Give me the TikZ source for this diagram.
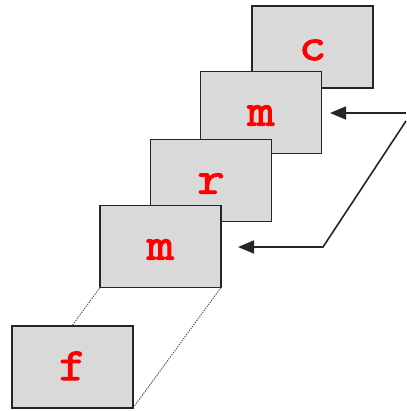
\documentclass[tikz,border=0pt]{standalone}
\usepackage{fontspec}
\newfontfamily\cardfont[FakeBold=2.5,FakeStretch=1.15]{Latin Modern Mono}
\usetikzlibrary{arrows.meta}
\begin{document}
\begin{tikzpicture}[x=1pt,y=-1pt,
  card/.style={draw=black!85,line width=1.8pt,fill=black!15,
    minimum width=121pt,minimum height=82pt,inner sep=0pt,outer sep=0pt,
    text=red,font=\fontsize{46}{46}\cardfont,
    text height=26pt,text depth=0pt},
  guide/.style={draw=black!65,line width=0.9pt,dash pattern=on 1.5pt off 1pt},
  feed/.style={draw=black!85,line width=1.6pt,
    -{Triangle[length=16pt,width=13pt]}}]
\useasboundingbox (0,0) rectangle (406,411);
% stack of cards, back to front
\node[card] (boxC)  at (312.5,47)  {c};
\node[card] (boxM1) at (261,112.5) {m};
\node[card] (boxR)  at (211,180.5) {r};
\node[card] (boxM2) at (160.5,246.5) {m};
% projection guides behind the front card
\node[card,draw=none,fill=none] (boxF0) at (72.5,367) {};
\draw[guide] (boxM2.south west) -- (boxF0.south west);
\draw[guide] (boxM2.south east) -- (boxF0.south east);
\node[card] (boxF) at (72.5,367) {f};
% feedback arrows
\coordinate (feedTop) at (406,113);
\coordinate (tipTop)  at (330,113);
\coordinate (feedLow) at (406,121);
\coordinate (bend)    at (323,247);
\coordinate (tipLow)  at (238,247);
\draw[feed] (feedTop) -- (tipTop);
\draw[feed] (feedLow) -- (bend) -- (tipLow);
\end{tikzpicture}
\end{document}
